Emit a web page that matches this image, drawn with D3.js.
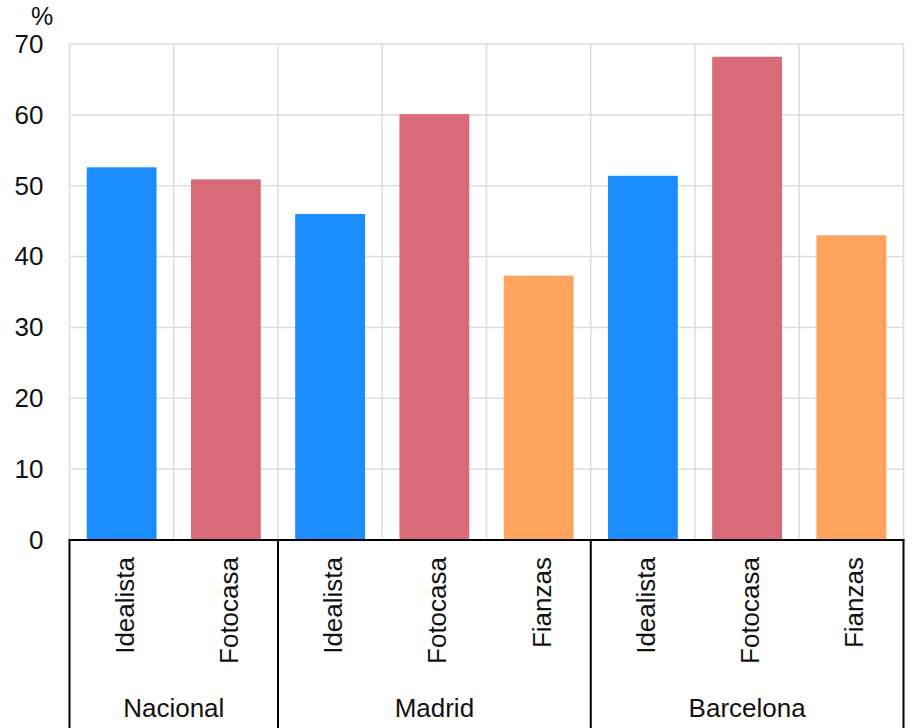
<!DOCTYPE html>
<html>
<head>
<meta charset="utf-8">
<script src="https://cdn.jsdelivr.net/npm/d3@7"></script>
<style>
  html, body { margin: 0; padding: 0; background: #fff; }
  svg { display: block; font-family: "Liberation Sans", Arial, Helvetica, sans-serif; }
</style>
</head>
<body>
<svg id="chart" width="913" height="728"></svg>
<script>
// ---- data ----
const groupLabels = ["Nacional", "Madrid", "Barcelona"];
const groupSizes = [2, 3, 3];
const sources = ["Idealista", "Fotocasa", "Idealista", "Fotocasa", "Fianzas", "Idealista", "Fotocasa", "Fianzas"];
const values = [52.6, 50.9, 46.0, 60.1, 37.3, 51.4, 68.2, 43.0];
const yTicks = [0, 10, 20, 30, 40, 50, 60, 70];
const sourceColors = { "Idealista": "#1b8dff", "Fotocasa": "#d96b79", "Fianzas": "#ffa35d" };

(function () {
// ---- layout ----
const svg = d3.select("#chart");
const plotLeft = 69.5, plotRight = 903.5, plotTop = 44, plotBottom = 540, boxBottom = 740;

const idx = d3.range(sources.length);
const x = d3.scaleBand().domain(idx).range([plotLeft, plotRight]).paddingInner(0.33).paddingOuter(0.165);
const step = x.step();
const y = d3.scaleLinear().domain([0, 70]).range([plotBottom, plotTop]);

// gridlines
const grid = svg.append("g").attr("stroke", "#dcdcdc").attr("stroke-width", 1.5);
yTicks.filter(t => t > 0).forEach(t => {
  grid.append("line").attr("x1", plotLeft).attr("x2", plotRight).attr("y1", y(t)).attr("y2", y(t));
});
d3.range(sources.length + 1).forEach(i => {
  const gx = plotLeft + i * step;
  grid.append("line").attr("x1", gx).attr("x2", gx).attr("y1", plotTop).attr("y2", plotBottom);
});

// bars
svg.append("g").selectAll("rect").data(idx).join("rect")
  .attr("x", i => x(i))
  .attr("width", x.bandwidth())
  .attr("y", i => y(values[i]))
  .attr("height", i => y(0) - y(values[i]))
  .attr("fill", i => sourceColors[sources[i]]);

// y axis labels
const yAxis = d3.axisLeft(y).tickValues(yTicks).tickSize(0).tickPadding(26);
const gy = svg.append("g").attr("transform", `translate(${plotLeft},0)`).call(yAxis);
gy.select(".domain").remove();
gy.selectAll("text").attr("font-size", 26).attr("fill", "#111")
  .style("font-family", "'Liberation Sans', Arial, Helvetica, sans-serif");

svg.append("text").attr("x", 42).attr("y", 25).attr("text-anchor", "middle")
  .attr("font-size", 25).attr("fill", "#111").text("%");

// x axis baseline
svg.append("line").attr("x1", plotLeft - 1).attr("x2", plotRight + 1).attr("y1", plotBottom).attr("y2", plotBottom)
  .attr("stroke", "#000").attr("stroke-width", 2);

// group separators
let cum = 0;
const bounds = [0];
groupSizes.forEach(s => { cum += s; bounds.push(cum); });
bounds.forEach(b => {
  const bx = plotLeft + b * step;
  svg.append("line").attr("x1", bx).attr("x2", bx).attr("y1", plotBottom).attr("y2", boxBottom)
    .attr("stroke", "#000").attr("stroke-width", 2);
});

// rotated source labels
svg.append("g").selectAll("text").data(idx).join("text")
  .attr("transform", i => `translate(${x(i) + x.bandwidth() / 2},557) rotate(-90)`)
  .attr("text-anchor", "end")
  .attr("dy", 12)
  .attr("font-size", 26)
  .attr("fill", "#111")
  .text(i => sources[i]);

// group labels
groupLabels.forEach((g, k) => {
  const cx = plotLeft + (bounds[k] + bounds[k + 1]) / 2 * step;
  svg.append("text").attr("x", cx).attr("y", 717).attr("text-anchor", "middle")
    .attr("font-size", 26).attr("fill", "#111").text(g);
});
})();
</script>
</body>
</html>
